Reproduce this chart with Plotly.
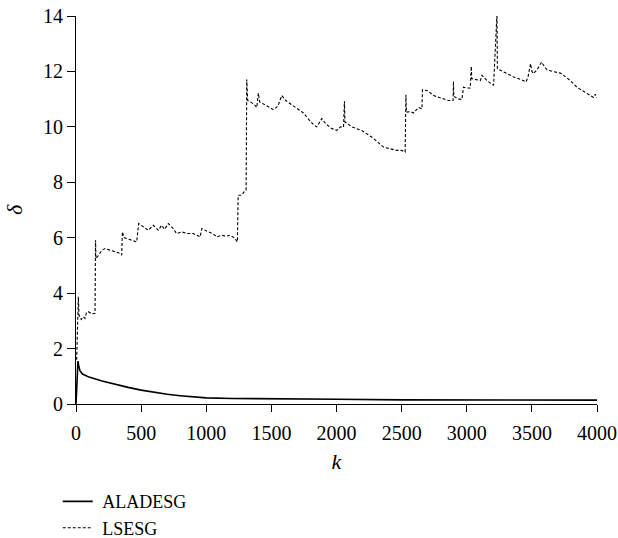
import plotly.graph_objects as go

# ALADESG series (k, delta)
aladesg_k = [0, 10, 15, 20, 30, 50, 100, 200, 300, 400, 500, 600, 700, 800, 900,
             1000, 1200, 1500, 2000, 2500, 3000, 3500, 4000]
aladesg_d = [0, 1.2, 1.55, 1.4, 1.2, 1.08, 0.97, 0.83, 0.71, 0.6, 0.5, 0.42, 0.35, 0.3, 0.26,
             0.22, 0.2, 0.18, 0.17, 0.15, 0.15, 0.14, 0.14]

# LSESG series (k, delta)
lsesg_k = [5, 18, 23, 40, 55, 69, 80, 95, 120, 146, 150, 153, 170, 184, 200, 223, 260, 300, 330, 351,
           356, 370, 389, 430, 466, 481, 517, 555, 594, 632, 658, 680, 709, 747, 772, 812, 850, 901,
           953, 966, 1016, 1050, 1081, 1119, 1150, 1183, 1215, 1239, 1245, 1270, 1290, 1306, 1311,
           1318, 1340, 1370, 1388, 1400, 1410, 1450, 1490, 1516, 1550, 1580, 1610, 1644, 1690, 1746,
           1790, 1830, 1849, 1887, 1920, 1960, 2003, 2030, 2054, 2061, 2065, 2120, 2200, 2280, 2361,
           2420, 2463, 2500, 2527, 2533, 2537, 2570, 2591, 2630, 2656, 2660, 2700, 2745, 2800, 2860,
           2895, 2898, 2901, 2940, 2963, 2975, 3000, 3027, 3035, 3038, 3070, 3104, 3117, 3160, 3206,
           3232, 3235, 3300, 3360, 3420, 3455, 3470, 3490, 3500, 3513, 3545, 3574, 3600, 3616, 3660,
           3718, 3760, 3800, 3846, 3910, 3974, 3987, 4000]
lsesg_d = [1.6, 3.87, 3.2, 3.05, 3.15, 3.09, 3.3, 3.33, 3.25, 3.27, 5.91, 5.25, 5.35, 5.43, 5.55, 5.61,
           5.55, 5.49, 5.45, 5.37,
           6.21, 6.0, 5.97, 5.9, 5.85, 6.51, 6.39, 6.27, 6.45, 6.27, 6.45, 6.3, 6.51, 6.33, 6.15, 6.21,
           6.15, 6.15,
           6.03, 6.33, 6.21, 6.15, 6.03, 6.09, 6.05, 6.09, 6.0, 5.85, 7.53, 7.53, 7.65, 7.71, 11.71,
           10.95, 10.9, 10.8, 10.7, 11.22, 10.9, 10.8, 10.7, 10.62, 10.75, 11.13, 10.95, 10.84, 10.7,
           10.5,
           10.25, 10.05, 10.0, 10.3, 10.1, 9.95, 9.87, 10.0, 9.99, 10.92, 10.17, 10.0, 9.85, 9.6, 9.27,
           9.2, 9.15, 9.15, 9.09, 11.16, 10.53, 10.55, 10.5, 10.7, 10.65, 11.34, 11.3, 11.13, 11.05,
           10.95,
           10.95, 11.64, 11.1, 11.0, 10.99, 11.43, 11.4, 11.4, 12.18, 11.74, 11.7, 11.67, 11.86, 11.65,
           11.5,
           14.08, 12.1, 11.95, 11.8, 11.7, 11.62, 11.8, 12.28, 12.0, 11.92, 12.1, 12.34, 12.15, 12.06,
           12.0,
           11.94, 11.8, 11.65, 11.43, 11.25, 11.06, 11.18, 11.05]

x_ticks = [0, 500, 1000, 1500, 2000, 2500, 3000, 3500, 4000]
y_ticks = [0, 2, 4, 6, 8, 10, 12, 14]
series_names = ["ALADESG", "LSESG"]

FONT = "Liberation Serif, Times New Roman, serif"

fig = go.Figure()
fig.add_trace(go.Scatter(x=aladesg_k, y=aladesg_d, mode="lines", name="\u00a0" + series_names[0],
                         line=dict(color="black", width=1.6)))
fig.add_trace(go.Scatter(x=lsesg_k, y=lsesg_d, mode="lines", name="\u00a0" + series_names[1],
                         line=dict(color="black", width=1.1, dash="3px,2px")))

axis_common = dict(showgrid=False, zeroline=False, showline=True, linecolor="black", linewidth=1.2,
                   ticks="outside", tickcolor="black", tickwidth=1.2, automargin=False,
                   tickfont=dict(family=FONT, size=20, color="black"))

fig.update_xaxes(range=[0, 4000], tickvals=x_ticks, ticklen=7, ticklabelstandoff=4,
                 title=dict(text="<i>k</i>", font=dict(family=FONT, size=22, color="black"), standoff=10),
                 **axis_common)
fig.update_yaxes(range=[0, 14], tickvals=y_ticks, ticklen=8, ticksuffix="\u00a0\u2009",
                 title=dict(text="<i>δ</i>", font=dict(family=FONT, size=22, color="black"), standoff=14),
                 **axis_common)

# The page is 538 px tall; the figure is a little taller (blank strip clipped at the bottom)
# so that the legend below the axes fits without Plotly shrinking the plot area.
fig.update_layout(
    width=618, height=560, autosize=False,
    margin=dict(l=76, r=21, t=16, b=156),
    plot_bgcolor="white", paper_bgcolor="white",
    font=dict(family=FONT, size=20, color="black"),
    legend=dict(x=-0.035, y=-0.204, xanchor="left", yanchor="top", orientation="v",
                itemwidth=30, font=dict(family=FONT, size=18, color="black"),
                bgcolor="rgba(0,0,0,0)", tracegroupgap=0),
    showlegend=True,
)

fig.write_html("out.html", config={"displayModeBar": False},
               post_script="document.body.style.margin='0';document.body.style.overflow='hidden';")
